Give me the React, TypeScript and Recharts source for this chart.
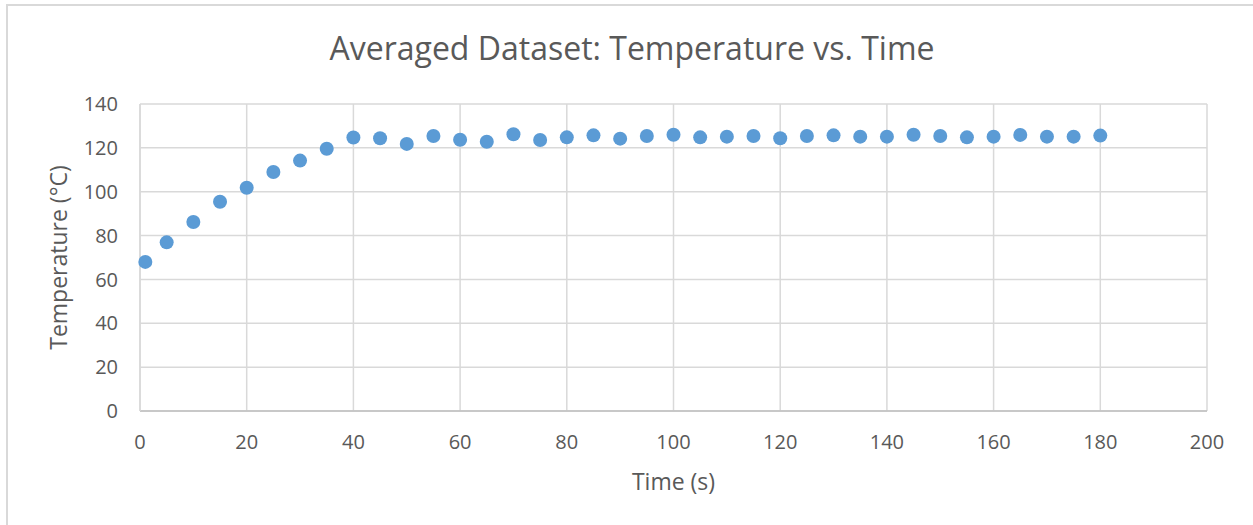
import React from 'react';
import { ScatterChart, Scatter, XAxis, YAxis, CartesianGrid } from 'recharts';

const times = [1, 5, 10, 15, 20, 25, 30, 35, 40, 45, 50, 55, 60, 65, 70, 75, 80, 85, 90, 95, 100, 105, 110, 115, 120, 125, 130, 135, 140, 145, 150, 155, 160, 165, 170, 175, 180];
const temps = [68.0, 76.9, 86.2, 95.4, 101.8, 109.0, 114.2, 119.6, 124.7, 124.4, 121.8, 125.4, 123.7, 122.8, 126.2, 123.6, 124.8, 125.7, 124.2, 125.4, 126.0, 124.8, 125.1, 125.4, 124.4, 125.4, 125.7, 125.1, 125.1, 126.0, 125.4, 124.8, 125.1, 125.9, 125.1, 125.1, 125.6];
const xTicks = [0, 20, 40, 60, 80, 100, 120, 140, 160, 180, 200];
const yTicks = [0, 20, 40, 60, 80, 100, 120, 140];

const title = 'Averaged Dataset: Temperature vs. Time';
const xTitle = 'Time (s)';
const yTitle = 'Temperature (°C)';

const data = times.map((t, i) => ({ t, v: temps[i] }));

const FONT = '"Open Sans", sans-serif';
const TXT = '#595959';

const Dot = (props: any) => {
  const { cx, cy } = props;
  if (cx == null || cy == null) return null;
  return <circle cx={cx} cy={cy} r={7} fill="#5B9BD5" />;
};

const YTitle = (props: any) => {
  const vb = props.viewBox || {};
  const x = (vb.x ?? 0) + 58;
  const y = (vb.y ?? 0) + (vb.height ?? 0) / 2;
  return (
    <text
      x={x}
      y={y}
      transform={`rotate(-90, ${x}, ${y})`}
      textAnchor="middle"
      dominantBaseline="central"
      fill={TXT}
      fontSize={23}
      fontFamily={FONT}
    >
      {yTitle}
    </text>
  );
};

const XTitle = (props: any) => {
  const vb = props.viewBox || {};
  const x = (vb.x ?? 0) + (vb.width ?? 0) / 2;
  const y = (vb.y ?? 0) + 70;
  return (
    <text x={x} y={y} textAnchor="middle" dominantBaseline="central" fill={TXT} fontSize={23} fontFamily={FONT}>
      {xTitle}
    </text>
  );
};

export default function App() {
  return (
    <div style={{ position: 'absolute', left: 0, top: 0, width: 1253, height: 525, overflow: 'hidden', background: '#fff' }}>
      <div
        style={{
          position: 'absolute',
          left: 6,
          top: 4,
          width: 1400,
          height: 700,
          border: '2px solid #D9D9D9',
          boxSizing: 'border-box',
        }}
      />
      <div
        style={{
          position: 'absolute',
          left: 0,
          top: 26,
          width: 1264,
          textAlign: 'center',
          fontFamily: FONT,
          fontSize: 32,
          color: TXT,
          lineHeight: '44px',
        }}
      >
        {title}
      </div>
      <div style={{ position: 'absolute', left: 0, top: 0 }}>
        <ScatterChart width={1253} height={525} margin={{ top: 104, right: 46, bottom: 54, left: 0 }}>
          <CartesianGrid stroke="#D9D9D9" strokeWidth={1.5} />
          <XAxis
            type="number"
            dataKey="t"
            domain={[0, 200]}
            ticks={xTicks}
            interval={0}
            height={60}
            tickLine={false}
            tickSize={0}
            tickMargin={24}
            axisLine={{ stroke: '#BFBFBF', strokeWidth: 1.5 }}
            tick={{ fill: TXT, fontSize: 20, fontFamily: FONT }}
            label={{ content: XTitle } as any}
          />
          <YAxis
            type="number"
            dataKey="v"
            domain={[0, 140]}
            ticks={yTicks}
            interval={0}
            width={140}
            tickLine={false}
            tickSize={0}
            tickMargin={22}
            axisLine={{ stroke: '#D9D9D9', strokeWidth: 1.5 }}
            tick={{ fill: TXT, fontSize: 20, fontFamily: FONT }}
            label={{ content: YTitle } as any}
          />
          <Scatter data={data} shape={Dot} isAnimationActive={false} />
        </ScatterChart>
      </div>
    </div>
  );
}
